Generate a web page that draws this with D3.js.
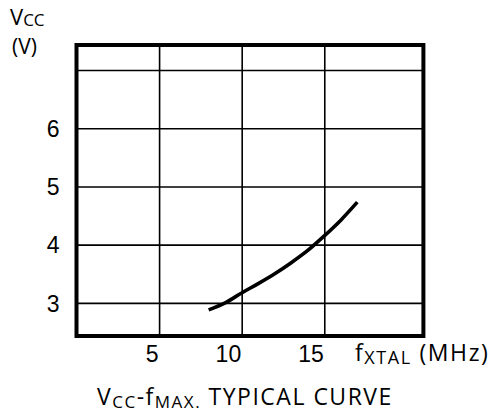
<!DOCTYPE html>
<html>
<head>
<meta charset="utf-8">
<script src="https://cdn.jsdelivr.net/npm/d3@7"></script>
<style>
  body { margin: 0; background: #fff; }
  svg { display: block; font-family: "Open Sans", sans-serif; }
</style>
</head>
<body>
<svg id="chart"></svg>
<script>
// Data
const freqMHz = [8.0, 9.0, 10.0, 11.0, 12.0, 13.0, 14.0, 15.0, 16.0, 17.0];
const vccVolts = [2.88, 3.0, 3.17, 3.33, 3.5, 3.69, 3.9, 4.15, 4.42, 4.73];
const xTicks = [5, 10, 15];
const yTicks = [3, 4, 5, 6, 7];
const yTickLabels = ["3", "4", "5", "6", ""];

function drawChart() {
    const width = 498, height = 412;
    const left = 76.5, right = 423.4, top = 45, bottom = 336;

    const svg = d3.select("#chart")
        .attr("width", width)
        .attr("height", height);

    const x = d3.scaleLinear().domain([0, 21]).range([left, right]);
    const y = d3.scaleLinear().domain([2.43, 7.43]).range([bottom, top]);

    // Vertical gridlines + x tick labels
    const xAxis = svg.append("g")
        .attr("transform", `translate(0,${bottom})`)
        .call(d3.axisBottom(x)
            .tickValues(xTicks)
            .tickSize(-(bottom - top))
            .tickPadding(6)
            .tickFormat(d3.format("d")));

    // Horizontal gridlines + y tick labels
    const yAxis = svg.append("g")
        .attr("transform", `translate(${left},0)`)
        .call(d3.axisLeft(y)
            .tickValues(yTicks)
            .tickSize(-(right - left))
            .tickPadding(17)
            .tickFormat((d, i) => yTickLabels[i]));

    [xAxis, yAxis].forEach(g => {
        g.select(".domain").remove();
        g.selectAll(".tick line")
            .attr("stroke", "#000")
            .attr("stroke-width", 1.6);
        g.selectAll(".tick text")
            .attr("fill", "#000")
            .style("font-size", "23px");
    });
    xAxis.selectAll(".tick text")
        .attr("text-anchor", "end")
        .attr("dx", "-1")
        .attr("dy", "0.85em");
    yAxis.selectAll(".tick text").attr("dy", "0.36em");

    // Curve
    const points = freqMHz.map((f, i) => [f, vccVolts[i]]);
    svg.append("path")
        .datum(points)
        .attr("fill", "none")
        .attr("stroke", "#000")
        .attr("stroke-width", 3.6)
        .attr("d", d3.line()
            .x(d => x(d[0]))
            .y(d => y(d[1]))
            .curve(d3.curveMonotoneX));

    // Thick frame
    svg.append("rect")
        .attr("x", left)
        .attr("y", top)
        .attr("width", right - left)
        .attr("height", bottom - top)
        .attr("fill", "none")
        .attr("stroke", "#000")
        .attr("stroke-width", 4);

    // Y axis title: V_CC (V)
    const yTitle = svg.append("text")
        .attr("x", 10)
        .attr("y", 25)
        .style("font-size", "22px");
    yTitle.append("tspan").text("V");
    yTitle.append("tspan").attr("dy", 1).style("font-size", "17px").text("CC");
    svg.append("text")
        .attr("x", 12)
        .attr("y", 54)
        .style("font-size", "21px")
        .text("(V)");

    // X axis title: f_XTAL (MHz)
    const xTitle = svg.append("text")
        .attr("x", 355)
        .attr("y", 361)
        .style("font-size", "23px")
        .style("letter-spacing", "1.6px");
    xTitle.append("tspan").text("f");
    xTitle.append("tspan").attr("dy", 3).style("font-size", "18px").text("XTAL");
    xTitle.append("tspan").attr("dy", -3).text(" (MHz)");

    // Caption
    const caption = svg.append("text")
        .attr("x", 97)
        .attr("y", 405)
        .style("font-size", "23px")
        .style("letter-spacing", "1.5px");
    caption.append("tspan").text("V");
    caption.append("tspan").attr("dy", 3).style("font-size", "17px").text("CC");
    caption.append("tspan").attr("dy", -3).text("-f");
    caption.append("tspan").attr("dy", 3).style("font-size", "17px").text("MAX.");
    caption.append("tspan").attr("dy", -3).text(" TYPICAL CURVE");
}

document.addEventListener("DOMContentLoaded", () => {
    drawChart();
});
</script>
</body>
</html>
